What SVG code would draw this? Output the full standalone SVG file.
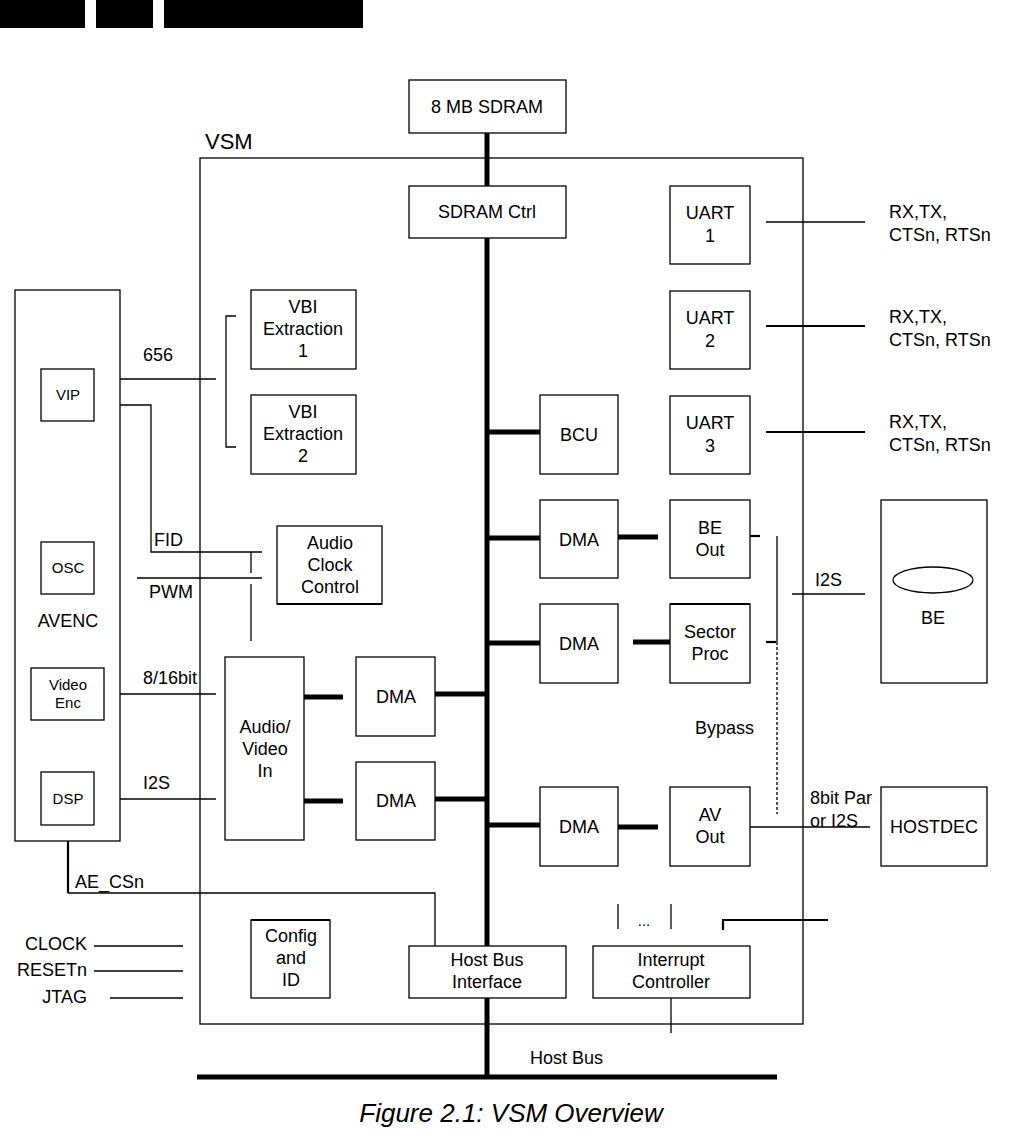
<svg xmlns="http://www.w3.org/2000/svg" width="1013" height="1135" viewBox="0 0 1013 1135">
<style>
.b{fill:#fff;stroke:#000;stroke-width:1.3}
.t{font-family:"Liberation Sans",Arial,sans-serif;font-size:18px;fill:#000;text-anchor:middle}
.s{font-family:"Liberation Sans",Arial,sans-serif;font-size:15px;fill:#000;text-anchor:middle}
.l{font-family:"Liberation Sans",Arial,sans-serif;font-size:18px;fill:#000}
.r{font-family:"Liberation Sans",Arial,sans-serif;font-size:18px;fill:#000;text-anchor:end}
.w{stroke:#000;stroke-width:1.3;fill:none}
.k{stroke:#000;stroke-width:5;fill:none}
.m{stroke:#000;stroke-width:2.2;fill:none}
</style>
<rect width="1013" height="1135" fill="#fff"/>
<g id="header">
<rect x="0" y="0" width="85" height="28" fill="#000"/>
<rect x="96" y="0" width="57" height="28" fill="#000"/>
<rect x="164" y="0" width="199" height="28" fill="#000"/>
</g>
<g id="vsm"><rect x="200" y="158" width="603" height="866" style="fill:none;stroke:#000;stroke-width:1.3"/><text x="205" y="149" class="l" style="font-size:22px">VSM</text></g>
<g id="connectors">
<line x1="487" y1="133" x2="487" y2="186" class="k"/>
<line x1="487" y1="238" x2="487" y2="946" class="k"/>
<line x1="487" y1="998" x2="487" y2="1077" class="k"/>
<line x1="197" y1="1077" x2="777" y2="1077" class="k"/>
<line x1="766" y1="222" x2="865" y2="222" class="w"/>
<line x1="766" y1="326" x2="865" y2="326" class="m"/>
<line x1="766" y1="432" x2="865" y2="432" class="m"/>
<polyline points="236,316 226,316 226,447 236,447" class="w"/>
<line x1="120" y1="379" x2="216" y2="379" class="w"/>
<polyline points="120,405 151,405 151,552 262,552" class="w"/>
<line x1="251" y1="552" x2="251" y2="573" class="w"/>
<line x1="137" y1="578" x2="262" y2="578" class="w"/>
<line x1="251" y1="584" x2="251" y2="641" class="w"/>
<line x1="120" y1="694" x2="216" y2="694" class="w"/>
<line x1="120" y1="799" x2="216" y2="799" class="w"/>
<line x1="304" y1="697" x2="343" y2="697" class="k"/>
<line x1="304" y1="801" x2="343" y2="801" class="k"/>
<line x1="435" y1="694" x2="487" y2="694" class="k"/>
<line x1="435" y1="799" x2="487" y2="799" class="k"/>
<line x1="487" y1="432" x2="540" y2="432" class="k"/>
<line x1="487" y1="538" x2="540" y2="538" class="k"/>
<line x1="487" y1="643" x2="540" y2="643" class="k"/>
<line x1="487" y1="825" x2="540" y2="825" class="k"/>
<line x1="618" y1="537" x2="658" y2="537" class="k"/>
<line x1="633" y1="642" x2="672" y2="642" class="k"/>
<line x1="618" y1="827" x2="658" y2="827" class="k"/>
<line x1="750" y1="536" x2="760" y2="536" class="m"/>
<line x1="766" y1="642" x2="776" y2="642" class="m"/>
<line x1="777" y1="536" x2="777" y2="642" class="w"/>
<line x1="777" y1="642" x2="777" y2="814" class="w" stroke-dasharray="3,2"/>
<line x1="792" y1="594" x2="865" y2="594" class="w"/>
<line x1="750" y1="827" x2="870" y2="827" class="w"/>
<polyline points="68,893 435,893 435,946" class="w"/>
<line x1="68" y1="841" x2="68" y2="893" class="m"/>
<line x1="94" y1="946" x2="183" y2="946" class="w"/>
<line x1="94" y1="971" x2="183" y2="971" class="w"/>
<line x1="110" y1="998" x2="183" y2="998" class="w"/>
<line x1="618" y1="904" x2="618" y2="929" class="w"/>
<line x1="671" y1="904" x2="671" y2="929" class="w"/>
<polyline points="723,930 723,920 828,920" class="m"/>
<line x1="671" y1="998" x2="671" y2="1033" class="w"/>
</g>
<g id="sdram"><rect x="409" y="80" width="157" height="53" class="b"/><text x="487" y="113" class="t">8 MB SDRAM</text></g>
<g id="sdramctrl"><rect x="409" y="186" width="157" height="52" class="b"/><text x="487" y="218" class="t">SDRAM Ctrl</text></g>
<g id="uart1"><rect x="670" y="186" width="80" height="78" class="b"/><text x="710" y="219" class="t">UART</text><text x="710" y="242" class="t">1</text></g>
<g id="uart2"><rect x="670" y="291" width="80" height="78" class="b"/><text x="710" y="324" class="t">UART</text><text x="710" y="347" class="t">2</text></g>
<g id="uart3"><rect x="670" y="396" width="80" height="78" class="b"/><text x="710" y="429" class="t">UART</text><text x="710" y="452" class="t">3</text></g>
<g id="uartlabels">
<text x="889" y="218" class="l">RX,TX,</text><text x="889" y="241" class="l">CTSn, RTSn</text>
<text x="889" y="323" class="l">RX,TX,</text><text x="889" y="346" class="l">CTSn, RTSn</text>
<text x="889" y="428" class="l">RX,TX,</text><text x="889" y="451" class="l">CTSn, RTSn</text>
</g>
<g id="vbi1"><rect x="251" y="290" width="105" height="79" class="b"/><text x="303" y="313" class="t">VBI</text><text x="303" y="335" class="t">Extraction</text><text x="303" y="357" class="t">1</text></g>
<g id="vbi2"><rect x="251" y="395" width="105" height="79" class="b"/><text x="303" y="418" class="t">VBI</text><text x="303" y="440" class="t">Extraction</text><text x="303" y="462" class="t">2</text></g>
<g id="avenc">
<rect x="15" y="290" width="105" height="551" class="b"/>
<text x="68" y="627" class="t">AVENC</text>
</g>
<g id="vip"><rect x="41" y="369" width="53" height="52" class="b"/><text x="68" y="400" class="s">VIP</text></g>
<g id="osc"><rect x="41" y="542" width="53" height="52" class="b"/><text x="68" y="573" class="s">OSC</text></g>
<g id="videoenc"><rect x="31" y="668" width="73" height="52" class="b"/><text x="68" y="690" class="s">Video</text><text x="68" y="708" class="s">Enc</text></g>
<g id="dsp"><rect x="41" y="772" width="53" height="53" class="b"/><text x="68" y="804" class="s">DSP</text></g>
<g id="siglabels">
<text x="143" y="361" class="l">656</text>
<text x="154" y="546" class="l">FID</text>
<text x="149" y="598" class="l">PWM</text>
<text x="143" y="684" class="l">8/16bit</text>
<text x="143" y="789" class="l">I2S</text>
<text x="75" y="888" class="l">AE_CSn</text>
<text x="87" y="950" class="r">CLOCK</text>
<text x="87" y="976" class="r">RESETn</text>
<text x="87" y="1003" class="r">JTAG</text>
<text x="815" y="586" class="l">I2S</text>
<text x="695" y="734" class="l">Bypass</text>
<text x="810" y="804" class="l">8bit Par</text>
<text x="810" y="827" class="l">or I2S</text>
<text x="530" y="1064" class="l">Host Bus</text>
<text x="644" y="926" class="s">...</text>
</g>
<g id="audioclock"><rect x="277" y="526" width="105" height="78" class="b"/><line x1="277" y1="604" x2="382" y2="604" class="m"/><text x="330" y="549" class="t">Audio</text><text x="330" y="571" class="t">Clock</text><text x="330" y="593" class="t">Control</text></g>
<g id="avin"><rect x="225" y="657" width="79" height="183" class="b"/><text x="265" y="733" class="t">Audio/</text><text x="265" y="755" class="t">Video</text><text x="265" y="777" class="t">In</text></g>
<g id="dma1"><rect x="356" y="657" width="79" height="79" class="b"/><text x="396" y="703" class="t">DMA</text></g>
<g id="dma2"><rect x="356" y="762" width="79" height="78" class="b"/><text x="396" y="807" class="t">DMA</text></g>
<g id="bcu"><rect x="540" y="395" width="78" height="79" class="b"/><text x="579" y="441" class="t">BCU</text></g>
<g id="dma3"><rect x="540" y="500" width="78" height="78" class="b"/><text x="579" y="546" class="t">DMA</text></g>
<g id="dma4"><rect x="540" y="604" width="78" height="79" class="b"/><text x="579" y="650" class="t">DMA</text></g>
<g id="dma5"><rect x="540" y="787" width="78" height="79" class="b"/><text x="579" y="833" class="t">DMA</text></g>
<g id="beout"><rect x="670" y="500" width="80" height="78" class="b"/><text x="710" y="534" class="t">BE</text><text x="710" y="556" class="t">Out</text></g>
<g id="sector"><rect x="670" y="604" width="80" height="79" class="b"/><line x1="670" y1="604" x2="750" y2="604" class="m"/><text x="710" y="638" class="t">Sector</text><text x="710" y="660" class="t">Proc</text></g>
<g id="avout"><rect x="670" y="787" width="80" height="79" class="b"/><text x="710" y="821" class="t">AV</text><text x="710" y="843" class="t">Out</text></g>
<g id="be"><rect x="881" y="500" width="106" height="183" class="b"/><ellipse cx="933" cy="580" rx="40" ry="13" class="w"/><text x="933" y="624" class="t">BE</text></g>
<g id="hostdec"><rect x="881" y="787" width="106" height="79" class="b"/><text x="934" y="833" class="t">HOSTDEC</text></g>
<g id="config"><rect x="251" y="920" width="79" height="78" class="b"/><line x1="251" y1="920" x2="330" y2="920" class="m"/><text x="291" y="942" class="t">Config</text><text x="291" y="964" class="t">and</text><text x="291" y="986" class="t">ID</text></g>
<g id="hbi"><rect x="409" y="946" width="157" height="52" class="b"/><text x="487" y="966" class="t">Host Bus</text><text x="487" y="988" class="t">Interface</text></g>
<g id="intc"><rect x="593" y="946" width="157" height="52" class="b"/><text x="671" y="966" class="t">Interrupt</text><text x="671" y="988" class="t">Controller</text></g>
<text x="511" y="1122" class="t" style="font-size:26px;font-style:italic">Figure 2.1: VSM Overview</text>
</svg>
